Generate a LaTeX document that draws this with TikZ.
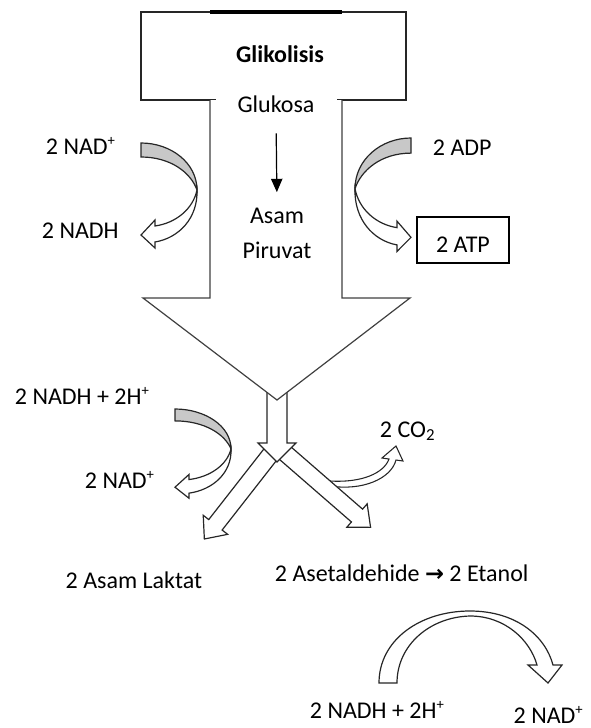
\documentclass[tikz,border=0pt]{standalone}
\usepackage{fontspec}
\setmainfont{Carlito}
\newfontfamily\symfont{DejaVu Sans}
\usetikzlibrary{arrows.meta}
\definecolor{shadegray}{RGB}{200,200,200}
\newcommand{\supplus}{\raisebox{0.75ex}{\fontsize{11}{12}\selectfont +}}
\tikzset{
  lbl/.style={font=\fontsize{18}{22}\selectfont, inner sep=2pt},
  outl/.style={draw=black!85, line width=0.9pt, line join=miter},
  bigout/.style={draw=black!75, line width=0.9pt, line join=miter},
}
% curved arrow: tail at origin (top-left), bulges right, head points left
\newcommand{\bentarrowshape}{%
  \filldraw[outl, fill=white] (56,47) .. controls (57,75) and (38,95) .. (14,99)
     -- (14,105) -- (0,92) -- (14,77) -- (14,83)
     .. controls (35,80) and (52,66) .. (56,47) -- cycle;
  \filldraw[outl, fill=shadegray] (0,0) .. controls (30,0) and (56,20) .. (56,47)
     .. controls (50,30) and (30,14) .. (0,14) -- cycle;}
% straight block arrow from (#1,#2), canvas angle #3, length #4
\newcommand{\blockarr}[4]{%
  \begin{scope}[shift={(#1,#2)}, rotate=#3]
    \filldraw[outl, fill=white] (0,-8.5) -- ({#4-18},-8.5) -- ({#4-18},-15.5)
      -- (#4,0) -- ({#4-18},15.5) -- ({#4-18},8.5) -- (0,8.5) -- cycle;
  \end{scope}}
\begin{document}
\begin{tikzpicture}[x=0.75pt, y=-0.75pt]
\useasboundingbox (0,0) rectangle (590,728);

% Glikolisis box
\draw[outl] (216,100) -- (141,100) -- (141,12) -- (406,12) -- (406,100) -- (337,100);
\draw[black, line width=2.3pt] (210,12) -- (342,12);

% CO2 side arrow
\filldraw[outl, fill=white, line width=0.8pt] (330,486)
   .. controls (362,491) and (391,479) .. (396,460)
   -- (403,461) -- (396,446) -- (382,458) -- (389,459)
   .. controls (384,473) and (362,483) .. (330,481) -- cycle;

% diagonal block arrows
\blockarr{277}{446}{-128}{118}
\blockarr{277}{446}{-41}{124}

% small down block arrow
\filldraw[outl, fill=white] (267,380) -- (267,443) -- (258,443) -- (277,462)
   -- (296,443) -- (287,443) -- (287,380);

% big block arrow
\filldraw[bigout, fill=white] (210,100) -- (210,298) -- (143,298) -- (277,400)
   -- (410,298) -- (342,298) -- (342,100);

% curved arrows
\begin{scope}[shift={(141,143)}] \bentarrowshape \end{scope}
\begin{scope}[shift={(411,138)}, xscale=-1, yscale=1.08] \bentarrowshape \end{scope}
\begin{scope}[shift={(175,409)}, yscale=0.85] \bentarrowshape \end{scope}

% bottom curved down arrow
\filldraw[outl, fill=white] (379,683)
   .. controls (379,640) and (420,611) .. (470,611)
   .. controls (515,611) and (545,635) .. (553,665)
   -- (562,665) -- (548,683) -- (528,665) -- (537,665)
   .. controls (530,640) and (505,616) .. (470,616)
   .. controls (430,617) and (397,645) .. (397,683) -- cycle;

% texts
\node[lbl, font=\fontsize{18}{22}\selectfont\bfseries, anchor=base] (glik) at (280,62) {Glikolisis};
\node[lbl, anchor=base] (glukosa) at (276,112) {Glukosa};
\node[lbl, anchor=base] (asam) at (277,223) {Asam};
\node[lbl, anchor=base] (piruvat) at (277,258) {Piruvat};
\draw[line width=0.9pt, -{Triangle[length=10pt, width=8.5pt]}, shorten <=13.7pt, shorten >=9.4pt]
   (glukosa.south) -- (asam.north);

\node[lbl, anchor=base west] (nadp1) at (43,154) {2 NAD\supplus};
\node[lbl, anchor=base west] (nadh1) at (39,238) {2 NADH};
\node[lbl, anchor=base west] (adp) at (430,155) {2 ADP};
\node[lbl, draw, line width=0.9pt, minimum width=69pt, minimum height=34.5pt,
      text height=18pt, text depth=0pt, inner sep=0pt] (atp) at (463,240) {2 ATP};

\node[lbl, anchor=base west] (nadh2) at (12,404) {2 NADH + 2H\supplus};
\node[lbl, anchor=base west] (nadp2) at (82,488) {2 NAD\supplus};
\node[lbl, anchor=base west] (co2) at (377,437) {2 CO\textsubscript{2}};
\node[lbl, anchor=base east] (laktat) at (205,588) {2 Asam Laktat};
\node[lbl, anchor=base west] (etanol) at (272,581) {2 Asetaldehide {\symfont\bfseries\fontsize{17}{18}\selectfont →} 2 Etanol};
\node[lbl, anchor=base west] (nadh3) at (307,718) {2 NADH + 2H\supplus};
\node[lbl, anchor=base east, inner sep=0pt] (nadp3) at (583,723) {2 NAD\supplus};
\end{tikzpicture}
\end{document}
